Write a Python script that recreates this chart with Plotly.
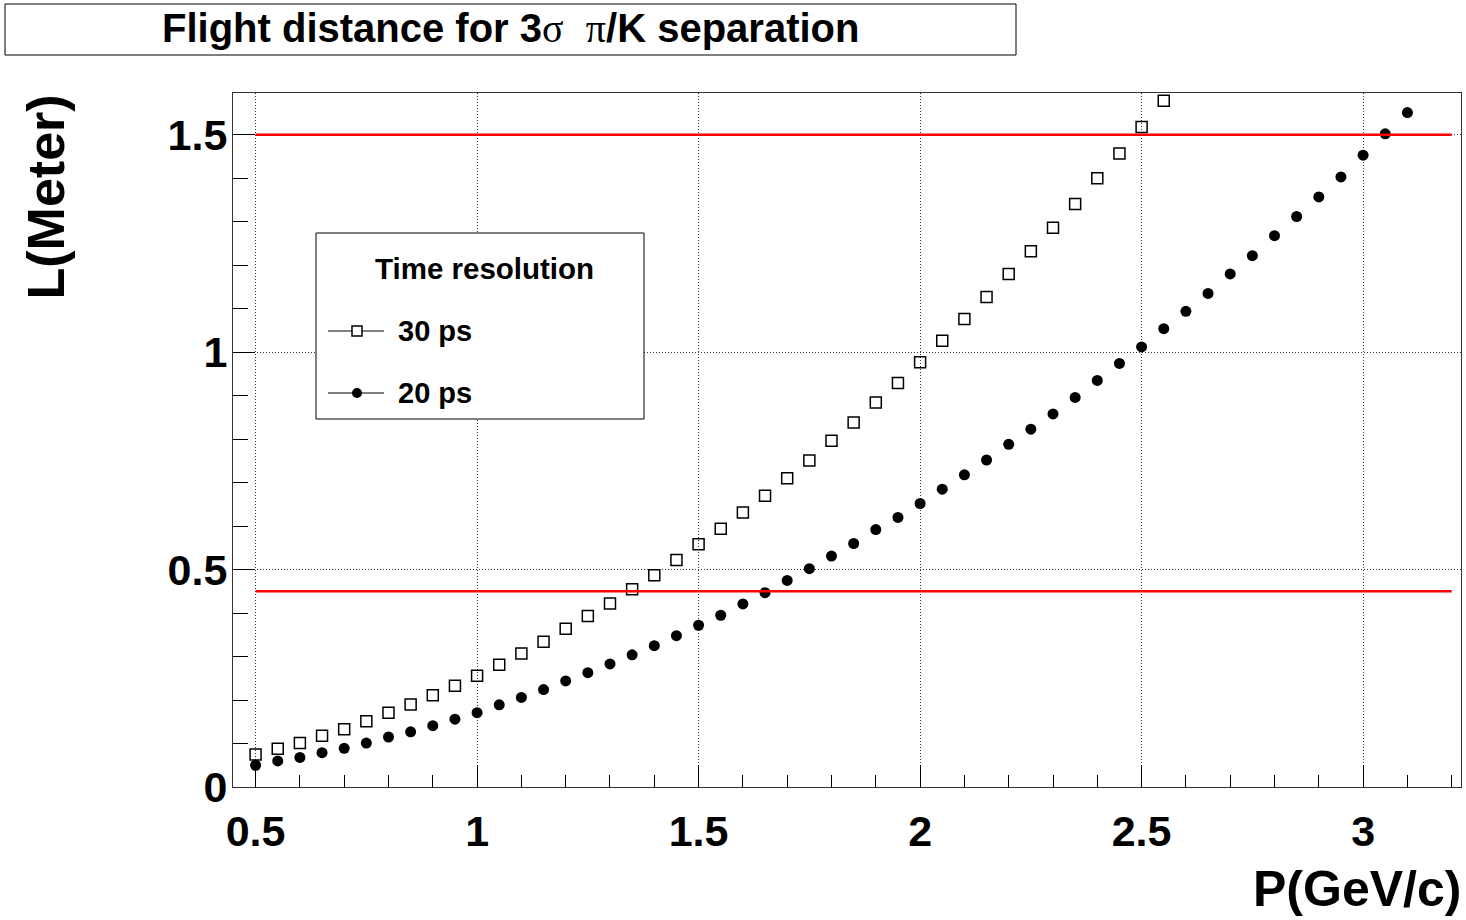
import plotly.graph_objects as go

# Momentum points (GeV/c) and required flight distance (m) for 3-sigma pi/K separation
p_30ps = [0.50, 0.55, 0.60, 0.65, 0.70, 0.75, 0.80, 0.85, 0.90, 0.95,
          1.00, 1.05, 1.10, 1.15, 1.20, 1.25, 1.30, 1.35, 1.40, 1.45,
          1.50, 1.55, 1.60, 1.65, 1.70, 1.75, 1.80, 1.85, 1.90, 1.95,
          2.00, 2.05, 2.10, 2.15, 2.20, 2.25, 2.30, 2.35, 2.40, 2.45,
          2.50, 2.55]
L_30ps = [0.075, 0.088, 0.101, 0.118, 0.133, 0.151, 0.171, 0.190, 0.211, 0.233,
          0.256, 0.281, 0.307, 0.334, 0.364, 0.393, 0.422, 0.455, 0.487, 0.522,
          0.558, 0.594, 0.631, 0.670, 0.710, 0.751, 0.796, 0.838, 0.884, 0.929,
          0.977, 1.026, 1.076, 1.127, 1.180, 1.232, 1.286, 1.341, 1.400, 1.457,
          1.518, 1.578]

p_20ps = [0.50, 0.55, 0.60, 0.65, 0.70, 0.75, 0.80, 0.85, 0.90, 0.95,
          1.00, 1.05, 1.10, 1.15, 1.20, 1.25, 1.30, 1.35, 1.40, 1.45,
          1.50, 1.55, 1.60, 1.65, 1.70, 1.75, 1.80, 1.85, 1.90, 1.95,
          2.00, 2.05, 2.10, 2.15, 2.20, 2.25, 2.30, 2.35, 2.40, 2.45,
          2.50, 2.55, 2.60, 2.65, 2.70, 2.75, 2.80, 2.85, 2.90, 2.95,
          3.00, 3.05, 3.10]
L_20ps = [0.050, 0.060, 0.068, 0.079, 0.089, 0.101, 0.115, 0.127, 0.141, 0.156,
          0.171, 0.189, 0.206, 0.224, 0.244, 0.263, 0.283, 0.304, 0.325, 0.348,
          0.372, 0.395, 0.421, 0.447, 0.475, 0.502, 0.531, 0.560, 0.592, 0.620,
          0.652, 0.685, 0.718, 0.752, 0.788, 0.823, 0.858, 0.896, 0.935, 0.974,
          1.012, 1.054, 1.094, 1.135, 1.180, 1.222, 1.268, 1.312, 1.357, 1.403,
          1.453, 1.502, 1.551]

# Horizontal reference distances (m) and their momentum span
ref_lengths = [1.5, 0.45]
ref_span = [0.5, 3.2]

series_labels = ["30 ps", "20 ps"]
legend_title = "Time resolution"
title_text = ("Flight distance for 3<span style='font-family:Liberation Serif;font-weight:normal'>σ</span>"
              "&nbsp;&nbsp;<span style='font-family:Liberation Serif;font-weight:normal'>π</span>/K separation")

W, H = 1466, 920
ML, MR, MT, MB = 233, 5, 93, 133
PW, PH = W - ML - MR, H - MT - MB


def px_x(px):
    return (px - ML) / PW


def px_y(py):
    return (H - MB - py) / PH


SANS = "Liberation Sans"

fig = go.Figure()

fig.add_trace(go.Scatter(
    x=p_30ps, y=L_30ps, mode="markers", name=series_labels[0],
    marker=dict(symbol="square-open", size=11, color="black", line=dict(width=1.5, color="black")),
    cliponaxis=True,
))
fig.add_trace(go.Scatter(
    x=p_20ps, y=L_20ps, mode="markers", name=series_labels[1],
    marker=dict(symbol="circle", size=11, color="black"),
    cliponaxis=True,
))
for L in ref_lengths:
    fig.add_trace(go.Scatter(
        x=ref_span, y=[L, L], mode="lines",
        line=dict(color="#ff0000", width=2.5), hoverinfo="skip",
    ))

axis_common = dict(
    showline=True, linecolor="#333333", linewidth=1, mirror=True,
    ticks="inside", ticklen=22, tickwidth=1, tickcolor="black",
    showgrid=True, gridcolor="#333333", gridwidth=1, griddash="1px,2px",
    zeroline=False,
    tickfont=dict(family=SANS, size=43, color="black", weight="bold"),
)

fig.update_xaxes(
    range=[0.449, 3.221], tick0=0.5, dtick=0.5,
    minor=dict(tick0=0.5, dtick=0.1, ticks="inside", ticklen=12, tickcolor="black", showgrid=False),
    ticklabelstandoff=6,
    **axis_common,
)
fig.update_yaxes(
    range=[0, 1.596], tick0=0, dtick=0.5,
    minor=dict(tick0=0, dtick=0.1, ticks="inside", ticklen=15, tickcolor="black", showgrid=False),
    ticklabelstandoff=-4,
    **axis_common,
)

shapes = []
annotations = []

# Title box
shapes.append(dict(type="rect", xref="paper", yref="paper",
                   x0=px_x(5), x1=px_x(1016), y0=px_y(55), y1=px_y(4),
                   line=dict(color="black", width=1), fillcolor="white", layer="above"))
annotations.append(dict(xref="paper", yref="paper", x=px_x(510), y=px_y(28),
                        xanchor="center", yanchor="middle", showarrow=False,
                        text=title_text,
                        font=dict(family=SANS, size=40, color="black", weight="bold")))

# Axis titles
annotations.append(dict(xref="paper", yref="paper", x=px_x(1463), y=px_y(889),
                        xanchor="right", yanchor="middle", showarrow=False,
                        text="P(GeV/c)",
                        font=dict(family=SANS, size=50, color="black", weight="bold")))
annotations.append(dict(xref="paper", yref="paper", x=px_x(45), y=px_y(92),
                        xanchor="center", yanchor="top", showarrow=False, textangle=-90,
                        text="L(Meter)",
                        font=dict(family=SANS, size=52, color="black", weight="bold")))

# Legend box
shapes.append(dict(type="rect", xref="paper", yref="paper",
                   x0=px_x(316), x1=px_x(644), y0=px_y(419), y1=px_y(233),
                   line=dict(color="black", width=1), fillcolor="white", layer="above"))
annotations.append(dict(xref="paper", yref="paper", x=px_x(484), y=px_y(268),
                        xanchor="center", yanchor="middle", showarrow=False,
                        text=legend_title,
                        font=dict(family=SANS, size=29.5, color="black", weight="bold")))
for label, ypix in zip(series_labels, [331, 393]):
    shapes.append(dict(type="line", xref="paper", yref="paper",
                       x0=px_x(328), x1=px_x(384), y0=px_y(ypix), y1=px_y(ypix),
                       line=dict(color="black", width=1), layer="above"))
    annotations.append(dict(xref="paper", yref="paper", x=px_x(396), y=px_y(ypix),
                            xanchor="left", yanchor="middle", showarrow=False,
                            text=label,
                            font=dict(family=SANS, size=29, color="black", weight="bold")))
# Legend glyphs
shapes.append(dict(type="rect", xref="paper", yref="paper",
                   xsizemode="pixel", ysizemode="pixel",
                   xanchor=px_x(357), yanchor=px_y(331), x0=-5, x1=5, y0=-5, y1=5,
                   line=dict(color="black", width=1.5), fillcolor="white", layer="above"))
shapes.append(dict(type="circle", xref="paper", yref="paper",
                   xsizemode="pixel", ysizemode="pixel",
                   xanchor=px_x(357), yanchor=px_y(393), x0=-5, x1=5, y0=-5, y1=5,
                   line=dict(color="black", width=0), fillcolor="black", layer="above"))

fig.update_layout(
    width=W, height=H,
    margin=dict(l=ML, r=MR, t=MT, b=MB),
    paper_bgcolor="white", plot_bgcolor="white",
    showlegend=False,
    shapes=shapes, annotations=annotations,
)

fig.write_html("out.html")
